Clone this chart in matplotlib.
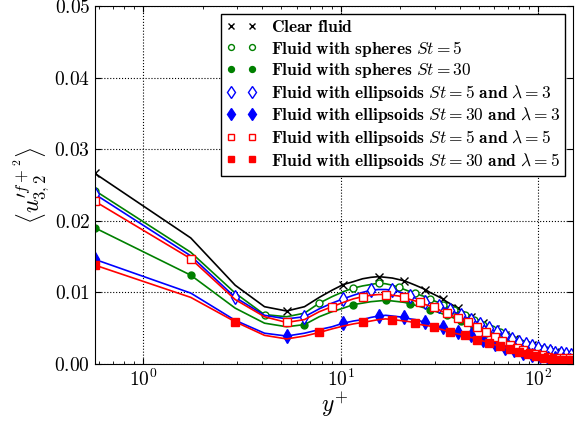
import matplotlib
matplotlib.use("Agg")
import matplotlib.pyplot as plt
from matplotlib.lines import Line2D
from matplotlib.ticker import FixedLocator, FixedFormatter, LogLocator, NullFormatter

plt.rcParams["mathtext.fontset"] = "cm"
plt.rcParams["mathtext.default"] = "it"
plt.rcParams["font.family"] = ["DejaVu Serif"]

# wall-normal grid points (wall units)
y_plus = [0.57, 1.74, 2.92, 4.11, 5.32, 6.55, 7.78, 9.03, 10.30, 11.59,
          12.89, 14.20, 15.53, 16.88, 18.24, 19.62, 21.01, 22.43, 23.85, 25.30,
          26.76, 28.24, 29.74, 31.26, 32.80, 34.35, 35.92, 37.51, 39.12, 40.75,
          42.40, 44.07, 45.76, 47.47, 49.20, 50.95, 52.72, 54.51, 56.33, 58.16,
          60.02, 61.90, 63.80, 65.73, 67.68, 69.65, 71.65, 73.67, 75.71, 77.78,
          79.87, 81.99, 84.13, 86.30, 88.50, 90.72, 92.97, 95.25, 97.55, 99.88,
          102.24, 104.63, 107.05, 109.49, 111.97, 114.47, 117.01, 119.57, 122.17, 124.79,
          127.45, 130.14, 132.86, 135.61, 138.40, 141.22, 144.08, 146.97, 149.89]

clear_fluid = [0.0266, 0.0176, 0.0110, 0.0080, 0.0074, 0.0080, 0.0093, 0.0103, 0.0111, 0.0115,
               0.0119, 0.0121, 0.0122, 0.0121, 0.0120, 0.0118, 0.0116, 0.0113, 0.0110, 0.0107,
               0.0104, 0.0100, 0.0097, 0.0094, 0.0091, 0.0087, 0.0084, 0.0081, 0.0078, 0.0075,
               0.0072, 0.0069, 0.0066, 0.0064, 0.0062, 0.0059, 0.0057, 0.0055, 0.0053, 0.0051,
               0.0049, 0.0047, 0.0045, 0.0043, 0.0041, 0.0040, 0.0038, 0.0037, 0.0035, 0.0034,
               0.0033, 0.0031, 0.0030, 0.0029, 0.0028, 0.0027, 0.0026, 0.0025, 0.0024, 0.0023,
               0.0022, 0.0021, 0.0021, 0.0020, 0.0019, 0.0019, 0.0018, 0.0017, 0.0017, 0.0016,
               0.0016, 0.0015, 0.0015, 0.0014, 0.0014, 0.0014, 0.0013, 0.0013, 0.0013]

spheres_st5 = [0.0242, 0.0156, 0.0099, 0.0069, 0.0066, 0.0071, 0.0085, 0.0094, 0.0101, 0.0106,
               0.0109, 0.0111, 0.0113, 0.0112, 0.0110, 0.0107, 0.0104, 0.0101, 0.0099, 0.0096,
               0.0094, 0.0091, 0.0088, 0.0086, 0.0083, 0.0080, 0.0078, 0.0075, 0.0073, 0.0070,
               0.0068, 0.0066, 0.0063, 0.0061, 0.0059, 0.0057, 0.0055, 0.0053, 0.0051, 0.0049,
               0.0047, 0.0045, 0.0044, 0.0042, 0.0040, 0.0039, 0.0037, 0.0036, 0.0034, 0.0033,
               0.0032, 0.0030, 0.0029, 0.0028, 0.0027, 0.0026, 0.0025, 0.0024, 0.0023, 0.0022,
               0.0021, 0.0021, 0.0020, 0.0019, 0.0019, 0.0018, 0.0017, 0.0017, 0.0016, 0.0016,
               0.0015, 0.0015, 0.0014, 0.0014, 0.0014, 0.0013, 0.0013, 0.0013, 0.0012]

spheres_st30 = [0.0190, 0.0124, 0.0078, 0.0057, 0.0052, 0.0055, 0.0066, 0.0073, 0.0078, 0.0083,
                0.0085, 0.0087, 0.0088, 0.0089, 0.0088, 0.0087, 0.0086, 0.0084, 0.0082, 0.0080,
                0.0078, 0.0076, 0.0074, 0.0072, 0.0070, 0.0068, 0.0066, 0.0064, 0.0062, 0.0060,
                0.0058, 0.0056, 0.0054, 0.0052, 0.0050, 0.0047, 0.0045, 0.0043, 0.0041, 0.0039,
                0.0037, 0.0035, 0.0033, 0.0031, 0.0029, 0.0028, 0.0026, 0.0025, 0.0023, 0.0022,
                0.0021, 0.0020, 0.0019, 0.0018, 0.0017, 0.0016, 0.0015, 0.0014, 0.0013, 0.0013,
                0.0012, 0.0011, 0.0011, 0.0010, 0.0010, 0.0010, 0.0009, 0.0009, 0.0009, 0.0008,
                0.0008, 0.0008, 0.0008, 0.0008, 0.0007, 0.0007, 0.0007, 0.0007, 0.0007]

ellip_st5_l3 = [0.0237, 0.0151, 0.0093, 0.0068, 0.0063, 0.0066, 0.0077, 0.0085, 0.0091, 0.0096,
                0.0100, 0.0103, 0.0104, 0.0104, 0.0103, 0.0101, 0.0098, 0.0095, 0.0092, 0.0089,
                0.0087, 0.0085, 0.0083, 0.0081, 0.0079, 0.0077, 0.0075, 0.0073, 0.0070, 0.0068,
                0.0066, 0.0064, 0.0062, 0.0060, 0.0058, 0.0056, 0.0054, 0.0052, 0.0050, 0.0048,
                0.0046, 0.0045, 0.0043, 0.0041, 0.0040, 0.0038, 0.0037, 0.0035, 0.0034, 0.0033,
                0.0031, 0.0030, 0.0029, 0.0028, 0.0027, 0.0026, 0.0025, 0.0024, 0.0023, 0.0022,
                0.0021, 0.0021, 0.0020, 0.0019, 0.0019, 0.0018, 0.0017, 0.0017, 0.0016, 0.0016,
                0.0015, 0.0015, 0.0015, 0.0014, 0.0014, 0.0014, 0.0013, 0.0013, 0.0013]

ellip_st30_l3 = [0.0146, 0.0099, 0.0061, 0.0043, 0.0039, 0.0043, 0.0048, 0.0052, 0.0057, 0.0060,
                 0.0062, 0.0065, 0.0067, 0.0068, 0.0067, 0.0066, 0.0065, 0.0063, 0.0062, 0.0060,
                 0.0058, 0.0056, 0.0054, 0.0053, 0.0051, 0.0049, 0.0047, 0.0046, 0.0045, 0.0044,
                 0.0042, 0.0041, 0.0040, 0.0038, 0.0037, 0.0035, 0.0034, 0.0032, 0.0031, 0.0030,
                 0.0028, 0.0027, 0.0026, 0.0025, 0.0023, 0.0022, 0.0021, 0.0020, 0.0019, 0.0018,
                 0.0017, 0.0016, 0.0016, 0.0015, 0.0014, 0.0013, 0.0013, 0.0012, 0.0012, 0.0011,
                 0.0011, 0.0010, 0.0010, 0.0009, 0.0009, 0.0009, 0.0008, 0.0008, 0.0008, 0.0008,
                 0.0007, 0.0007, 0.0007, 0.0007, 0.0007, 0.0006, 0.0006, 0.0006, 0.0006]

ellip_st5_l5 = [0.0227, 0.0147, 0.0090, 0.0066, 0.0058, 0.0062, 0.0073, 0.0080, 0.0086, 0.0091,
                0.0094, 0.0096, 0.0097, 0.0097, 0.0096, 0.0095, 0.0093, 0.0090, 0.0088, 0.0086,
                0.0083, 0.0081, 0.0079, 0.0076, 0.0073, 0.0071, 0.0069, 0.0066, 0.0064, 0.0062,
                0.0060, 0.0058, 0.0055, 0.0053, 0.0051, 0.0048, 0.0046, 0.0044, 0.0042, 0.0040,
                0.0038, 0.0036, 0.0034, 0.0032, 0.0030, 0.0028, 0.0027, 0.0025, 0.0024, 0.0022,
                0.0021, 0.0020, 0.0019, 0.0018, 0.0017, 0.0016, 0.0015, 0.0014, 0.0014, 0.0013,
                0.0012, 0.0012, 0.0011, 0.0011, 0.0010, 0.0010, 0.0010, 0.0009, 0.0009, 0.0009,
                0.0009, 0.0008, 0.0008, 0.0008, 0.0008, 0.0008, 0.0008, 0.0008, 0.0008]

ellip_st30_l5 = [0.0138, 0.0093, 0.0059, 0.0040, 0.0035, 0.0039, 0.0044, 0.0049, 0.0053, 0.0056,
                 0.0058, 0.0060, 0.0062, 0.0063, 0.0062, 0.0061, 0.0060, 0.0059, 0.0057, 0.0055,
                 0.0054, 0.0053, 0.0051, 0.0049, 0.0048, 0.0046, 0.0045, 0.0043, 0.0042, 0.0041,
                 0.0040, 0.0038, 0.0037, 0.0036, 0.0034, 0.0033, 0.0032, 0.0031, 0.0029, 0.0028,
                 0.0027, 0.0026, 0.0025, 0.0024, 0.0023, 0.0022, 0.0021, 0.0020, 0.0019, 0.0018,
                 0.0017, 0.0016, 0.0015, 0.0015, 0.0014, 0.0013, 0.0012, 0.0012, 0.0011, 0.0011,
                 0.0010, 0.0010, 0.0009, 0.0009, 0.0008, 0.0008, 0.0007, 0.0007, 0.0007, 0.0006,
                 0.0006, 0.0006, 0.0005, 0.0005, 0.0005, 0.0005, 0.0005, 0.0005, 0.0005]

labels = [
    r"$\mathbf{Clear\ fluid}$",
    r"$\mathbf{Fluid\ with\ spheres}\ St=5$",
    r"$\mathbf{Fluid\ with\ spheres}\ St=30$",
    r"$\mathbf{Fluid\ with\ ellipsoids}\ St=5\ \mathbf{and}\ \lambda=3$",
    r"$\mathbf{Fluid\ with\ ellipsoids}\ St=30\ \mathbf{and}\ \lambda=3$",
    r"$\mathbf{Fluid\ with\ ellipsoids}\ St=5\ \mathbf{and}\ \lambda=5$",
    r"$\mathbf{Fluid\ with\ ellipsoids}\ St=30\ \mathbf{and}\ \lambda=5$",
]

GREEN = (0.0, 0.5, 0.0)
BLUE = (0.0, 0.0, 1.0)
RED = (1.0, 0.0, 0.0)

n = len(y_plus)
# (values, colour, marker, filled, size, first marked index, marker stride)
series = [
    (clear_fluid, "k", "x", True, 5.5, 0, 4),
    (spheres_st5, GREEN, "o", False, 5, 0, 3),
    (spheres_st30, GREEN, "o", True, 5, 1, 4),
    (ellip_st5_l3, BLUE, "d", False, 7, 2, 3),
    (ellip_st30_l3, BLUE, "d", True, 7, 0, 4),
    (ellip_st5_l5, RED, "s", False, 5.5, 1, 3),
    (ellip_st30_l5, RED, "s", True, 5.5, 2, 4),
]

fig = plt.figure(figsize=(5.83, 4.23), dpi=100)
ax = fig.add_axes([0.163, 0.1395, 0.82, 0.8465])

handles = []
for (vals, col, mk, filled, ms, start, step), lab in zip(series, labels):
    marks = sorted(set([0] + list(range(start, n, step))))
    face = col if filled else "white"
    ax.plot(y_plus, vals, color=col, lw=1.2, marker=mk, ms=ms,
            markevery=marks, mfc=face, mec=col, mew=1.0)
    handles.append(Line2D([], [], ls="none", marker=mk, ms=ms * 0.85, color=col,
                          mfc=face, mec=col, mew=1.0))

ax.set_xscale("log")
ax.set_xlim(0.57, 150)
ax.set_ylim(0.0, 0.05)

ax.yaxis.set_major_locator(FixedLocator([0.0, 0.01, 0.02, 0.03, 0.04, 0.05]))
ax.yaxis.set_major_formatter(FixedFormatter([r"$\mathrm{0.00}$", r"$\mathrm{0.01}$",
                                             r"$\mathrm{0.02}$", r"$\mathrm{0.03}$",
                                             r"$\mathrm{0.04}$", r"$\mathrm{0.05}$"]))
ax.xaxis.set_major_locator(FixedLocator([1, 10, 100]))
ax.xaxis.set_major_formatter(FixedFormatter([r"$\mathrm{10^{0}}$", r"$\mathrm{10^{1}}$",
                                             r"$\mathrm{10^{2}}$"]))
ax.xaxis.set_minor_locator(LogLocator(base=10, subs=range(2, 10)))
ax.xaxis.set_minor_formatter(NullFormatter())

ax.tick_params(which="both", direction="in", top=True, right=True, labelsize=14)
ax.tick_params(which="major", length=4, width=0.8)
ax.tick_params(which="minor", length=2, width=0.6)
ax.grid(True, which="major", ls=":", color="k", lw=0.8)

ax.set_xlabel(r"$y^{+}$", fontsize=17, labelpad=0)
ax.set_ylabel(r"$\langle u^{\prime f +^{2}}_{3,2} \rangle$", fontsize=17, labelpad=2)

leg = ax.legend(handles, labels, loc="upper right", numpoints=2, fontsize=12.5,
                frameon=True, fancybox=False, framealpha=1, edgecolor="k",
                borderaxespad=0.45, labelspacing=0.15, handlelength=1.8,
                handletextpad=0.8, borderpad=0.3)
leg.get_frame().set_linewidth(1.0)

fig.savefig("out.png", dpi=100)
